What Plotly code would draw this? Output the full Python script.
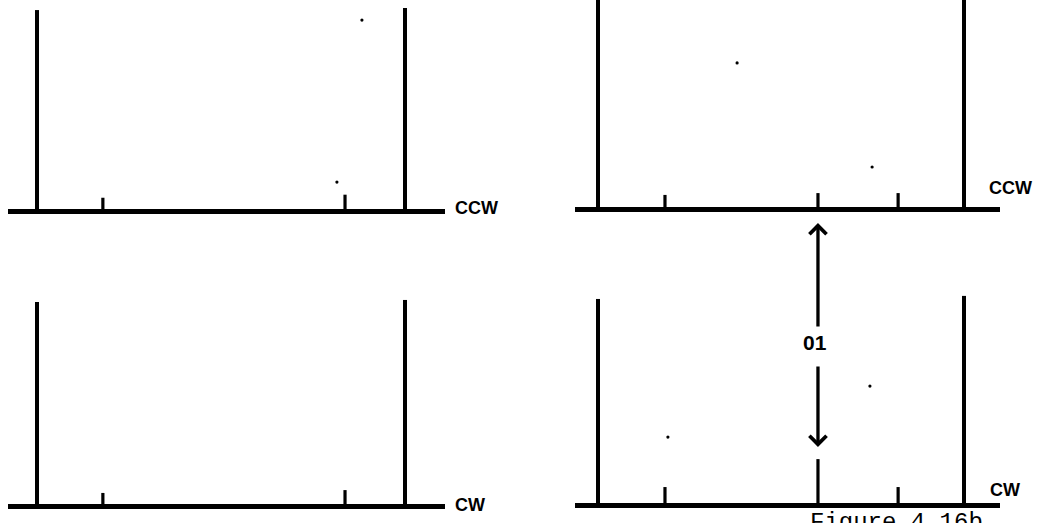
import plotly.graph_objects as go

W, H = 1046, 523

# ---- data (positions in units of the tall-line spacing, heights relative to the tall lines) ----
left_pos = [0.0, 0.179, 0.837, 1.0]
tl_heights = [0.985, 0.065, 0.080, 0.995]   # top-left, CCW
bl_heights = [1.000, 0.064, 0.078, 1.010]   # bottom-left, CW

right_pos = [0.0, 0.183, 0.601, 0.820, 1.0]
tr_heights = [1.100, 0.069, 0.078, 0.078, 1.100]  # top-right, CCW (tall lines run off the top)
br_heights = [1.010, 0.088, 0.225, 0.088, 1.025]  # bottom-right, CW

# scan specks
tl_specks_x = [0.883, 0.815]
tl_specks_y = [0.936, 0.142]
tr_specks_x = [0.380, 0.749]
tr_specks_y = [0.716, 0.206]
br_specks_x = [0.191, 0.743]
br_specks_y = [0.333, 0.583]

panel_labels = ["CCW", "CCW", "CW", "CW"]
arrow_label = "01"
caption = "Figure 4.16b"


def X(px):
    return px / W


def Y(py):
    return 1 - py / H


fig = go.Figure()

panels = [
    ("x", "y", left_pos, tl_heights, tl_specks_x, tl_specks_y),
    ("x2", "y2", right_pos, tr_heights, tr_specks_x, tr_specks_y),
    ("x3", "y3", left_pos, bl_heights, [], []),
    ("x4", "y4", right_pos, br_heights, br_specks_x, br_specks_y),
]

for xa, ya, pos, hts, sx, sy in panels:
    for tall in (True, False):
        xs, ys = [], []
        for p, h in zip(pos, hts):
            if (h > 0.5) == tall:
                xs += [p, p, None]
                ys += [0, h, None]
        fig.add_trace(go.Scatter(
            x=xs, y=ys, mode="lines", xaxis=xa, yaxis=ya,
            line=dict(color="black", width=4 if tall else 3.2),
            hoverinfo="skip", showlegend=False))
    if sx:
        fig.add_trace(go.Scatter(
            x=sx, y=sy, mode="markers", xaxis=xa, yaxis=ya,
            marker=dict(color="black", size=3.2),
            hoverinfo="skip", showlegend=False))

left_dom = [X(8), X(445)]
right_dom = [X(575), X(1000)]
left_rng = [(8 - 37) / 368, (445 - 37) / 368]
right_rng = [(575 - 598) / 366, (1000 - 598) / 366]
k = 204.0

xcommon = dict(showgrid=False, zeroline=False, showticklabels=False, ticks="", showline=False, fixedrange=True)
ycommon = dict(showgrid=False, zeroline=True, zerolinecolor="black", zerolinewidth=5,
               showticklabels=False, ticks="", showline=False, fixedrange=True)

fig.update_layout(
    width=W, height=H,
    margin=dict(l=0, r=0, t=0, b=0),
    paper_bgcolor="white", plot_bgcolor="white",
    showlegend=False,
    xaxis=dict(domain=left_dom, range=left_rng, anchor="y", **xcommon),
    yaxis=dict(domain=[Y(219), 1], range=[-8 / k, 211 / k], anchor="x", **ycommon),
    xaxis2=dict(domain=right_dom, range=right_rng, anchor="y2", **xcommon),
    yaxis2=dict(domain=[Y(217), 1], range=[-8 / k, 209 / k], anchor="x2", **ycommon),
    xaxis3=dict(domain=left_dom, range=left_rng, anchor="y3", **xcommon),
    yaxis3=dict(domain=[0, Y(250)], range=[-17 / k, 256 / k], anchor="x3", **ycommon),
    xaxis4=dict(domain=right_dom, range=right_rng, anchor="y4", **xcommon),
    yaxis4=dict(domain=[0, Y(250)], range=[-18 / k, 255 / k], anchor="x4", **ycommon),
)

label_font = dict(family="Liberation Sans", size=18, color="black")
label_pos = [(476, 208), (1010, 188), (470, 505), (1005, 490)]
for txt, (px, py) in zip(panel_labels, label_pos):
    fig.add_annotation(x=X(px), y=Y(py), xref="paper", yref="paper", text="<b>" + txt + "</b>",
                       showarrow=False, font=label_font, xanchor="center", yanchor="middle")

# double arrow with label
mid_x = right_pos[2]
fig.add_annotation(x=mid_x, y=Y(223), xref="x2", yref="paper", text="", showarrow=True,
                   ax=0, ay=105, axref="pixel", ayref="pixel", arrowhead=4, arrowsize=1,
                   arrowwidth=3.3, arrowcolor="black", standoff=0)
fig.add_annotation(x=mid_x, y=Y(447), xref="x2", yref="paper", text="", showarrow=True,
                   ax=0, ay=-82, axref="pixel", ayref="pixel", arrowhead=4, arrowsize=1,
                   arrowwidth=3.3, arrowcolor="black", standoff=0)
fig.add_annotation(x=X(815), y=Y(342), xref="paper", yref="paper", text="<b>" + arrow_label + "</b>",
                   showarrow=False, font=dict(family="Liberation Sans", size=21, color="black"),
                   xanchor="center", yanchor="middle")

# caption, cut off at bottom edge as in the scan
fig.add_annotation(x=X(808), y=Y(507), xref="paper", yref="paper", text=caption,
                   showarrow=False, font=dict(family="Liberation Mono", size=24, color="black"),
                   xanchor="left", yanchor="top")

fig.write_html("out.html",
               config={"displayModeBar": False},
               post_script="document.body.style.margin='0';document.body.style.padding='0';"
                           "document.body.style.overflow='hidden';")
